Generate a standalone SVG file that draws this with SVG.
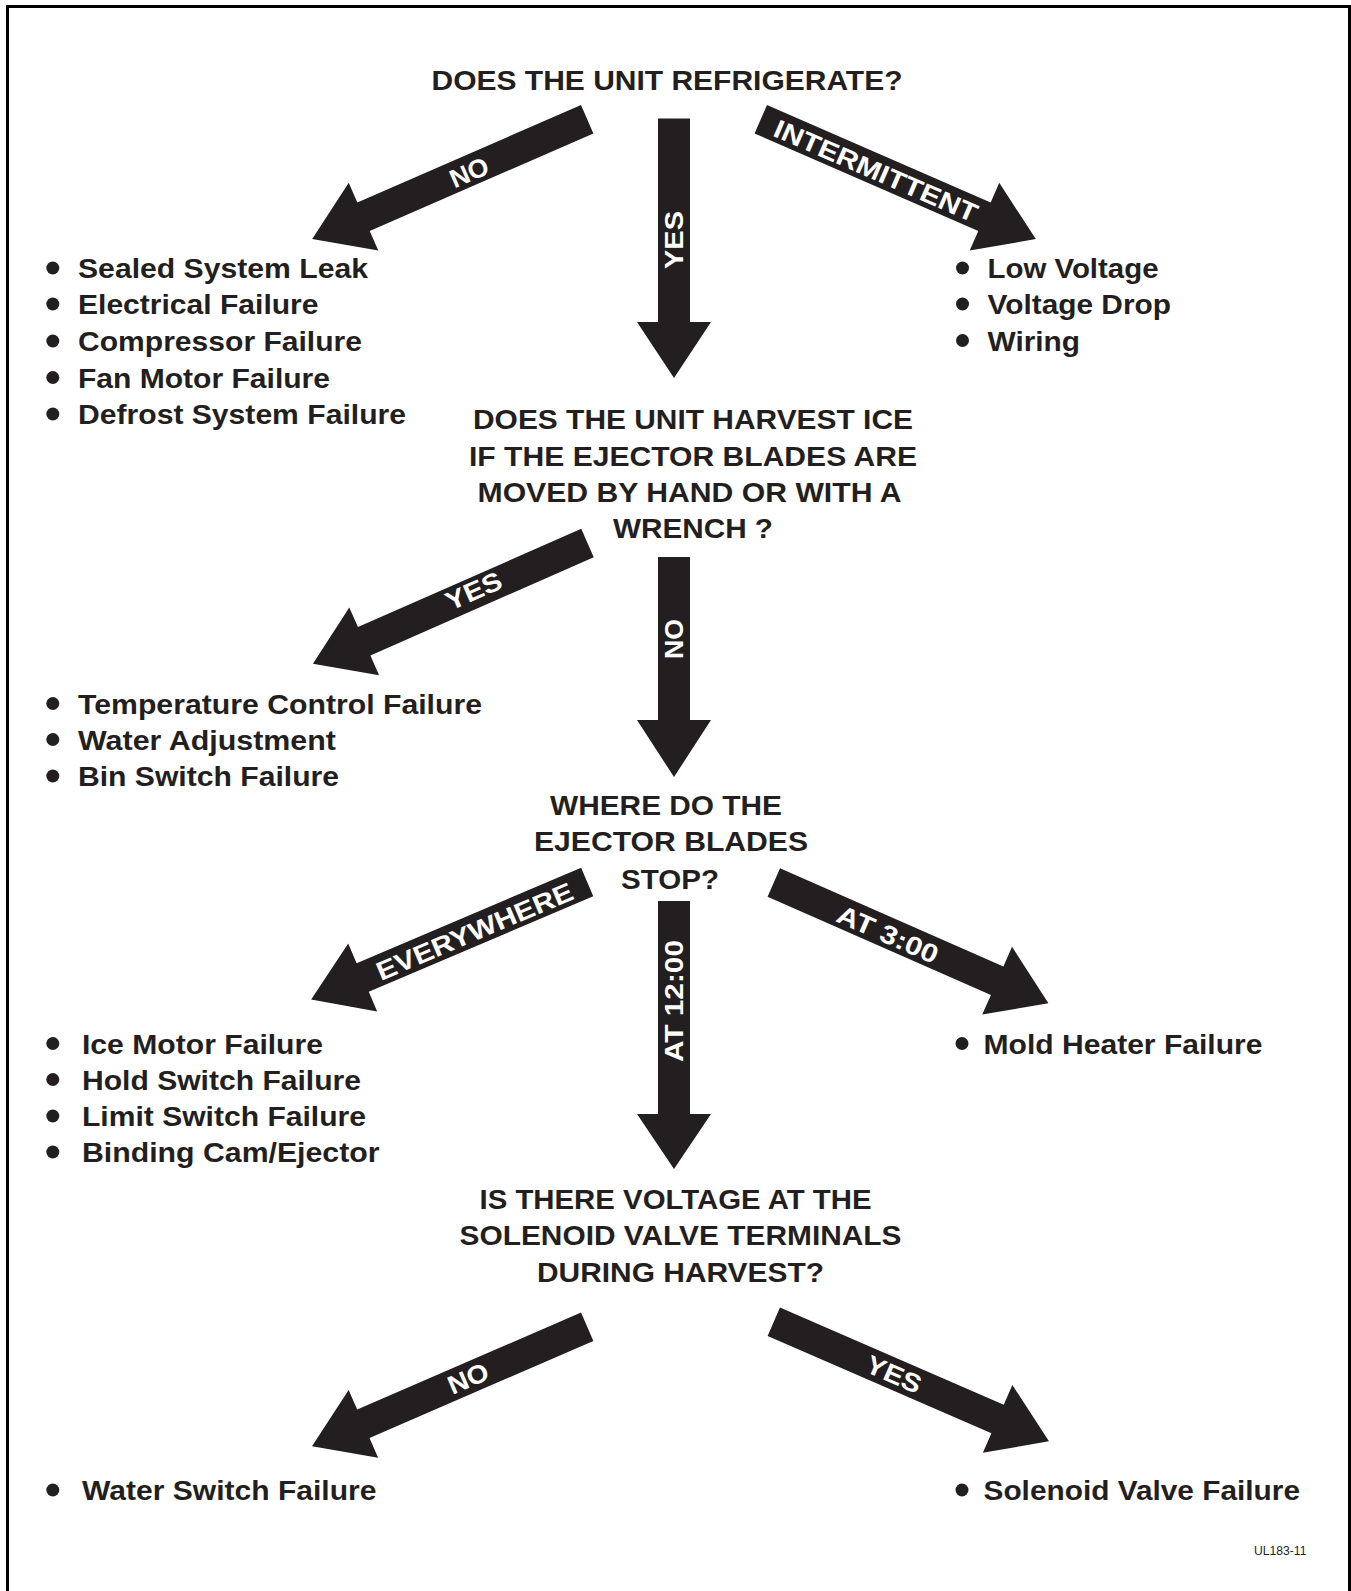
<svg xmlns="http://www.w3.org/2000/svg" width="1351" height="1591" viewBox="0 0 1351 1591">
<style>
.t{font-family:"Liberation Sans",Arial,Helvetica,sans-serif;font-weight:bold;font-size:28px;fill:#231f20}
.q{text-anchor:middle}
.lab{font-family:"Liberation Sans",Arial,Helvetica,sans-serif;font-weight:bold;font-size:26px;fill:#ffffff;text-anchor:middle}
.arr{fill:#231f20}
.b{fill:#231f20}
.code{font-family:"Liberation Sans",Arial,Helvetica,sans-serif;font-size:12.5px;fill:#231f20}
</style>
<defs>
<path id="da" d="M0,-15.5 H244 V-37 L300,0 L244,37 V15.5 H0 Z"/>
</defs>
<rect width="1351" height="1591" fill="#ffffff"/>
<path d="M7.5,1591 V6.5 H1349.5 V1591" fill="none" stroke="#000000" stroke-width="3"/>

<g id="connectors">
  <use href="#da" class="arr" transform="translate(587.2,119.2) rotate(156.45)"/>
  <use href="#da" class="arr" transform="translate(760.8,119.2) rotate(23.55)"/>
  <path class="arr" d="M658,118.5 H690 V322 H711 L674,378 L637,322 H658 Z"/>
  <use href="#da" class="arr" transform="translate(587.5,543) rotate(156.24)"/>
  <path class="arr" d="M658,557 H690 V720 H711 L674,777 L637,720 H658 Z"/>
  <use href="#da" class="arr" transform="translate(587.2,882) rotate(156.94)"/>
  <path class="arr" d="M658,901 H690 V1114 H711 L674,1169 L637,1114 H658 Z"/>
  <use href="#da" class="arr" transform="translate(773.8,882.5) rotate(23.74)"/>
  <use href="#da" class="arr" transform="translate(587.2,1326.7) rotate(156.54)"/>
  <use href="#da" class="arr" transform="translate(773.8,1321.7) rotate(23.48)"/>

  <text class="lab" transform="translate(469,172) rotate(-23.5)" y="9.4" textLength="40" lengthAdjust="spacingAndGlyphs">NO</text>
  <text class="lab" transform="translate(674,240) rotate(-90)" y="9.4" textLength="58" lengthAdjust="spacingAndGlyphs">YES</text>
  <text class="lab" transform="translate(876,170.5) rotate(23.5)" y="9.4" textLength="219" lengthAdjust="spacingAndGlyphs">INTERMITTENT</text>
  <text class="lab" transform="translate(473.5,590.5) rotate(-23.8)" y="9.4" textLength="59" lengthAdjust="spacingAndGlyphs">YES</text>
  <text class="lab" transform="translate(674,639) rotate(-90)" y="9.4" textLength="40" lengthAdjust="spacingAndGlyphs">NO</text>
  <text class="lab" transform="translate(474.5,931) rotate(-23)" y="9.4" textLength="211" lengthAdjust="spacingAndGlyphs">EVERYWHERE</text>
  <text class="lab" transform="translate(674,1001) rotate(-90)" y="9.4" textLength="122" lengthAdjust="spacingAndGlyphs">AT 12:00</text>
  <text class="lab" transform="translate(888,934) rotate(23.7)" y="9.4" textLength="108" lengthAdjust="spacingAndGlyphs">AT 3:00</text>
  <text class="lab" transform="translate(468,1378) rotate(-23.5)" y="9.4" textLength="42" lengthAdjust="spacingAndGlyphs">NO</text>
  <text class="lab" transform="translate(894,1374) rotate(23.5)" y="9.4" textLength="58" lengthAdjust="spacingAndGlyphs">YES</text>
</g>

<g id="q1">
  <text class="t q" x="667" y="90" textLength="471" lengthAdjust="spacingAndGlyphs">DOES THE UNIT REFRIGERATE?</text>
</g>

<g id="list-no-refrigerate">
  <circle class="b" cx="52.8" cy="268" r="6.5"/>
  <text class="t" x="78" y="278" textLength="290" lengthAdjust="spacingAndGlyphs">Sealed System Leak</text>
  <circle class="b" cx="52.8" cy="304" r="6.5"/>
  <text class="t" x="78" y="314" textLength="240.5" lengthAdjust="spacingAndGlyphs">Electrical Failure</text>
  <circle class="b" cx="52.8" cy="341" r="6.5"/>
  <text class="t" x="78" y="351" textLength="284" lengthAdjust="spacingAndGlyphs">Compressor Failure</text>
  <circle class="b" cx="52.8" cy="377.5" r="6.5"/>
  <text class="t" x="78" y="387.5" textLength="252" lengthAdjust="spacingAndGlyphs">Fan Motor Failure</text>
  <circle class="b" cx="52.8" cy="414" r="6.5"/>
  <text class="t" x="78" y="424" textLength="328" lengthAdjust="spacingAndGlyphs">Defrost System Failure</text>
</g>

<g id="list-intermittent">
  <circle class="b" cx="962.5" cy="268" r="6.5"/>
  <text class="t" x="987.5" y="278" textLength="171" lengthAdjust="spacingAndGlyphs">Low Voltage</text>
  <circle class="b" cx="962.5" cy="304" r="6.5"/>
  <text class="t" x="987.5" y="314" textLength="183.5" lengthAdjust="spacingAndGlyphs">Voltage Drop</text>
  <circle class="b" cx="962.5" cy="340.5" r="6.5"/>
  <text class="t" x="987.5" y="350.5" textLength="92.5" lengthAdjust="spacingAndGlyphs">Wiring</text>
</g>

<g id="q2">
  <text class="t q" x="693" y="429" textLength="440" lengthAdjust="spacingAndGlyphs">DOES THE UNIT HARVEST ICE</text>
  <text class="t q" x="693" y="465.5" textLength="448" lengthAdjust="spacingAndGlyphs">IF THE EJECTOR BLADES ARE</text>
  <text class="t q" x="689.5" y="501.5" textLength="424" lengthAdjust="spacingAndGlyphs">MOVED BY HAND OR WITH A</text>
  <text class="t q" x="693" y="538" textLength="160" lengthAdjust="spacingAndGlyphs">WRENCH ?</text>
</g>

<g id="list-harvest-yes">
  <circle class="b" cx="52.8" cy="703.5" r="6.5"/>
  <text class="t" x="78" y="713.5" textLength="404" lengthAdjust="spacingAndGlyphs">Temperature Control Failure</text>
  <circle class="b" cx="52.8" cy="739.5" r="6.5"/>
  <text class="t" x="78" y="749.5" textLength="258" lengthAdjust="spacingAndGlyphs">Water Adjustment</text>
  <circle class="b" cx="52.8" cy="776" r="6.5"/>
  <text class="t" x="78" y="786" textLength="261" lengthAdjust="spacingAndGlyphs">Bin Switch Failure</text>
</g>

<g id="q3">
  <text class="t q" x="666" y="815" textLength="232" lengthAdjust="spacingAndGlyphs">WHERE DO THE</text>
  <text class="t q" x="671" y="851" textLength="274" lengthAdjust="spacingAndGlyphs">EJECTOR BLADES</text>
  <text class="t q" x="670" y="888.5" textLength="98" lengthAdjust="spacingAndGlyphs">STOP?</text>
</g>

<g id="list-everywhere">
  <circle class="b" cx="52.8" cy="1043.5" r="6.5"/>
  <text class="t" x="82" y="1053.5" textLength="241" lengthAdjust="spacingAndGlyphs">Ice Motor Failure</text>
  <circle class="b" cx="52.8" cy="1079.5" r="6.5"/>
  <text class="t" x="82" y="1089.5" textLength="279" lengthAdjust="spacingAndGlyphs">Hold Switch Failure</text>
  <circle class="b" cx="52.8" cy="1116" r="6.5"/>
  <text class="t" x="82" y="1126" textLength="284" lengthAdjust="spacingAndGlyphs">Limit Switch Failure</text>
  <circle class="b" cx="52.8" cy="1152" r="6.5"/>
  <text class="t" x="82" y="1162" textLength="297.5" lengthAdjust="spacingAndGlyphs">Binding Cam/Ejector</text>
</g>

<g id="list-at-3">
  <circle class="b" cx="962" cy="1043.5" r="6.5"/>
  <text class="t" x="983.5" y="1053.5" textLength="279" lengthAdjust="spacingAndGlyphs">Mold Heater Failure</text>
</g>

<g id="q4">
  <text class="t q" x="675.5" y="1208.5" textLength="392" lengthAdjust="spacingAndGlyphs">IS THERE VOLTAGE AT THE</text>
  <text class="t q" x="680.5" y="1245" textLength="442" lengthAdjust="spacingAndGlyphs">SOLENOID VALVE TERMINALS</text>
  <text class="t q" x="680.5" y="1282" textLength="287" lengthAdjust="spacingAndGlyphs">DURING HARVEST?</text>
</g>

<g id="list-voltage-no">
  <circle class="b" cx="52.8" cy="1490" r="6.5"/>
  <text class="t" x="82" y="1500" textLength="294.5" lengthAdjust="spacingAndGlyphs">Water Switch Failure</text>
</g>

<g id="list-voltage-yes">
  <circle class="b" cx="962" cy="1490" r="6.5"/>
  <text class="t" x="983.5" y="1500" textLength="316.5" lengthAdjust="spacingAndGlyphs">Solenoid Valve Failure</text>
</g>

<g id="figure-code">
  <text class="code" x="1254" y="1555" textLength="52.5" lengthAdjust="spacingAndGlyphs">UL183-11</text>
</g>
</svg>
